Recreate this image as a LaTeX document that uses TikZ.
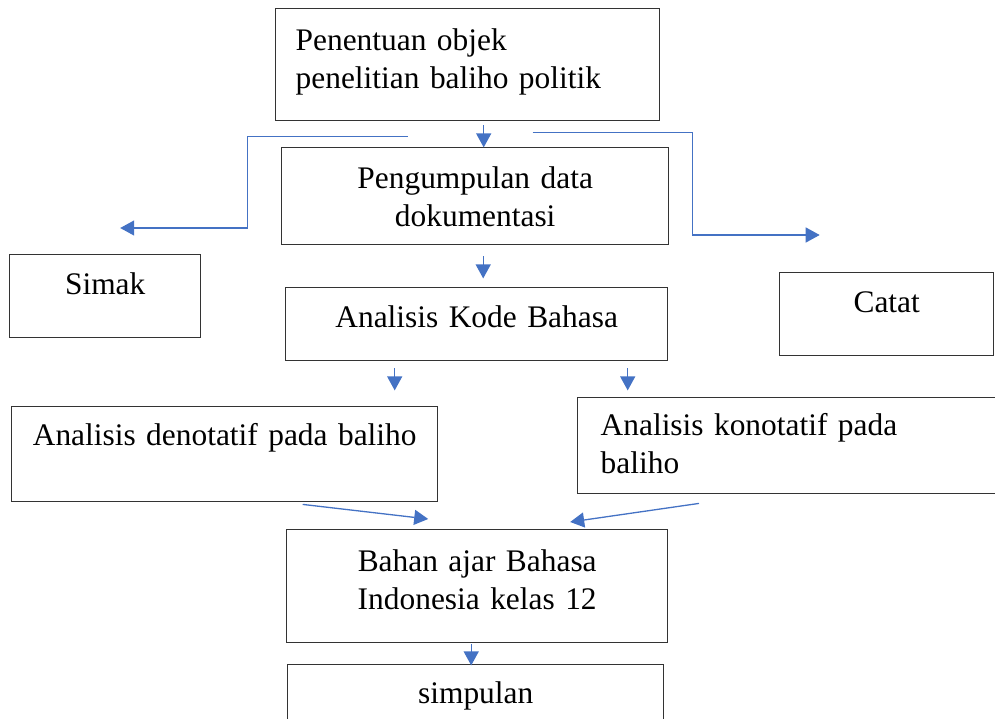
\documentclass[tikz,border=0pt]{standalone}
\usepackage{fontspec}
\setmainfont{Liberation Serif}
\usepackage{tikz}
\usetikzlibrary{positioning, arrows.meta, calc}
\definecolor{arrowblue}{HTML}{4472C4}

\begin{document}
\begin{tikzpicture}[x=1pt, y=-1pt,
    box/.style={draw=black!80, line width=1.4pt, inner ysep=0pt, inner xsep=0pt, anchor=north west,
        font=\fontsize{31.4}{38}\selectfont},
    arr/.style={draw=arrowblue, line width=1.3pt, -{Triangle[length=14pt,width=15pt]}}]
            \useasboundingbox (0,0) rectangle (995,718);
            \clip (0,0) rectangle (995,718);
            % Boxes of the flow, top to bottom
            \node[box, text width=344pt, inner xsep=20pt, align=left, text height=42pt, text depth=70pt] (objek) at (275,8) {Penentuan objek\\penelitian baliho politik};
            \node[box, text width=387pt, align=center, text height=41pt, text depth=56pt] (kumpul) at (281,147) {Pengumpulan data\\dokumentasi};
            \node[box, text width=191pt, align=center, text height=40pt, text depth=43pt] (simak) at (9,254) {Simak};
            \node[box, text width=214pt, align=center, text height=40pt, text depth=43pt] (catat) at (779,272) {Catat};
            \node[box, text width=382pt, align=center, text height=40pt, text depth=33pt] (kode) at (285,287) {Analisis Kode Bahasa};
            \node[box, text width=426pt, align=center, text height=39pt, text depth=56pt] (denotatif) at (11,406) {Analisis denotatif pada baliho};
            \node[box, text width=400pt, inner xsep=23pt, align=left, text height=38pt, text depth=58pt] (konotatif) at (577,397) {Analisis konotatif pada\\baliho};
            \node[box, text width=381pt, align=center, text height=42pt, text depth=71pt] (bahan) at (286,529) {Bahan ajar Bahasa\\Indonesia kelas 12};
            \node[box, text width=376pt, align=center, text height=39pt, text depth=57pt] (simpulan) at (287,664) {simpulan};

            % Free ends of the side arrows
            \coordinate (simak-in) at ($(simak.north)+(15,-26)$);
            \coordinate (catat-in) at ($(catat.north)+(-67,-37)$);

            % Arrows
            \draw[arr] ($(objek.south)+(16,4)$) -- ($(objek.south)+(16,26)$);
            \draw[arr] ($(objek.south)+(-60,15)$) -- ++(-160,0) |- (simak-in);
            \draw[arr] ($(objek.south)+(65,11)$) -- ++(160,0) |- (catat-in);
            \draw[arr] ($(kumpul.south)+(8,11)$) -- ($(kumpul.south)+(8,33)$);
            \draw[arr] ($(kode.south)+(-82,7)$) -- ($(kode.south)+(-82,29)$);
            \draw[arr] ($(kode.south)+(151,7)$) -- ($(kode.south)+(151,29)$);
            \draw[arr] ($(denotatif.south)+(78,2)$) -- ($(bahan.north)+(-49,-10)$);
            \draw[arr] ($(konotatif.south west)+(122,9)$) -- ($(bahan.north)+(93,-7)$);
            \draw[arr] ($(bahan.south)+(-6,1)$) -- ($(bahan.south)+(-6,22)$);
        \end{tikzpicture}
\end{document}
